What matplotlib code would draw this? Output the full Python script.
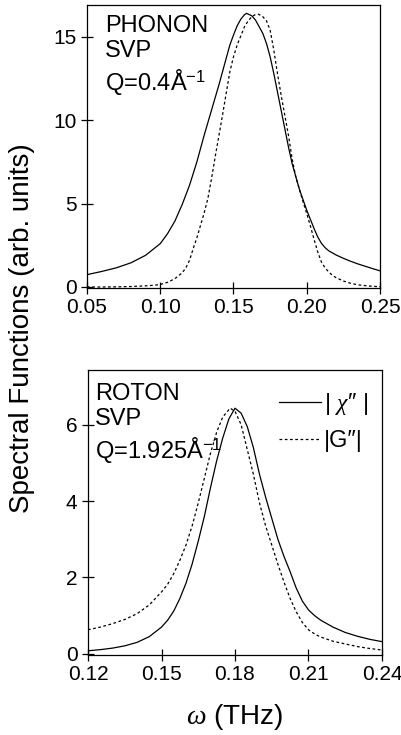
import matplotlib
matplotlib.use("Agg")
import matplotlib.pyplot as plt
from matplotlib.lines import Line2D

plt.rcParams['font.family'] = ['Liberation Sans', 'DejaVu Sans']
plt.rcParams['mathtext.fontset'] = 'custom'
plt.rcParams['mathtext.rm'] = 'Liberation Sans'
plt.rcParams['mathtext.it'] = 'Liberation Serif:italic'

# ---- Phonon panel data (Q = 0.4 1/A) ----
ph_chi_x = [0.05, 0.06, 0.07, 0.08, 0.09, 0.10, 0.105, 0.11, 0.115, 0.12, 0.125,
            0.13, 0.135, 0.14, 0.145, 0.1475, 0.15, 0.1525, 0.155, 0.1575, 0.159,
            0.1625, 0.165, 0.1675, 0.17, 0.1725, 0.175, 0.1775, 0.18, 0.1825,
            0.185, 0.1875, 0.19, 0.195, 0.20, 0.2025, 0.205, 0.2075, 0.21, 0.2125,
            0.215, 0.22, 0.225, 0.23, 0.235, 0.24, 0.245, 0.25]
ph_chi = [0.74, 0.93, 1.15, 1.45, 1.9, 2.6, 3.2, 3.95, 4.95, 6.1, 7.5,
          9.1, 10.6, 12.1, 13.7, 14.5, 15.1, 15.65, 16.05, 16.32, 16.4,
          16.25, 16.0, 15.6, 15.2, 14.6, 13.8, 12.8, 11.7, 10.6,
          9.5, 8.4, 7.4, 5.85, 4.6, 4.05, 3.5, 3.0, 2.62, 2.36,
          2.17, 1.92, 1.72, 1.54, 1.38, 1.24, 1.1, 0.97]
ph_g_x = [0.05, 0.06, 0.07, 0.08, 0.09, 0.095, 0.10, 0.105, 0.11, 0.115, 0.1175,
          0.12, 0.1225, 0.125, 0.1275, 0.13, 0.1325, 0.135, 0.1375, 0.14, 0.1425,
          0.145, 0.1475, 0.15, 0.1525, 0.155, 0.1575, 0.16, 0.1625, 0.165, 0.167,
          0.17, 0.1725, 0.175, 0.1775, 0.18, 0.1825, 0.185, 0.1875, 0.19, 0.1925,
          0.195, 0.1975, 0.20, 0.2025, 0.205, 0.2075, 0.21, 0.2125, 0.215, 0.2175,
          0.22, 0.225, 0.23, 0.235, 0.24, 0.245, 0.25]
ph_g = [0.0, 0.0, 0.01, 0.03, 0.07, 0.1, 0.15, 0.28, 0.5, 0.85, 1.15,
        1.6, 2.3, 2.95, 3.7, 4.45, 5.3, 6.5, 7.8, 9.05, 10.3,
        11.6, 12.9, 13.8, 14.5, 15.05, 15.6, 15.95, 16.2, 16.33, 16.35,
        16.2, 15.95, 15.4, 14.2, 12.8, 11.5, 10.3, 9.1, 7.7, 6.6,
        5.85, 5.1, 4.4, 3.65, 2.85, 2.1, 1.5, 1.15, 0.9, 0.7,
        0.56, 0.36, 0.22, 0.13, 0.08, 0.04, 0.02]

# ---- Roton panel data (Q = 1.925 1/A) ----
ro_chi_x = [0.12, 0.125, 0.13, 0.135, 0.14, 0.145, 0.15, 0.1525, 0.155, 0.1575,
            0.16, 0.1625, 0.165, 0.1675, 0.17, 0.1725, 0.175, 0.1775, 0.18,
            0.1825, 0.185, 0.1875, 0.19, 0.1925, 0.195, 0.1975, 0.20, 0.2025,
            0.205, 0.2075, 0.21, 0.2125, 0.215, 0.22, 0.225, 0.23, 0.235, 0.24]
ro_chi = [0.08, 0.11, 0.15, 0.21, 0.3, 0.45, 0.7, 0.88, 1.12, 1.45,
          1.85, 2.35, 2.95, 3.6, 4.35, 5.05, 5.65, 6.15, 6.43,
          6.3, 5.95, 5.4, 4.7, 4.1, 3.55, 3.0, 2.55, 2.15,
          1.72, 1.38, 1.15, 1.0, 0.88, 0.7, 0.56, 0.46, 0.38, 0.32]
ro_g_x = [0.12, 0.125, 0.13, 0.135, 0.14, 0.145, 0.15, 0.1525, 0.155, 0.1575,
          0.16, 0.1625, 0.165, 0.1675, 0.17, 0.1725, 0.175, 0.178, 0.18,
          0.1825, 0.185, 0.1875, 0.19, 0.1925, 0.195, 0.1975, 0.20, 0.2025,
          0.205, 0.2075, 0.21, 0.2125, 0.215, 0.22, 0.225, 0.23, 0.235, 0.24]
ro_g = [0.63, 0.7, 0.79, 0.9, 1.05, 1.28, 1.62, 1.82, 2.1, 2.45,
        2.85, 3.35, 3.95, 4.6, 5.25, 5.8, 6.2, 6.43, 6.35,
        6.0, 5.35, 4.7, 3.95, 3.35, 2.85, 2.35, 1.88, 1.45,
        1.1, 0.82, 0.63, 0.52, 0.44, 0.33, 0.26, 0.19, 0.14, 0.1]

ph_xticks = [0.05, 0.10, 0.15, 0.20, 0.25]
ph_yticks = [0, 5, 10, 15]
ro_xticks = [0.12, 0.15, 0.18, 0.21, 0.24]
ro_yticks = [0, 2, 4, 6]

fig = plt.figure(figsize=(4.02, 7.35), dpi=100)
ax1 = fig.add_axes([87/402, 1-288/735, 293/402, 283/735])
ax2 = fig.add_axes([88/402, 1-655/735, 294/402, 285/735])

lw = 0.9
dash = (0, (2.2, 2.0))
ax1.plot(ph_chi_x, ph_chi, color='black', lw=lw)
ax1.plot(ph_g_x, ph_g, color='black', lw=lw, linestyle=dash)
ax2.plot(ro_chi_x, ro_chi, color='black', lw=lw)
ax2.plot(ro_g_x, ro_g, color='black', lw=lw, linestyle=dash)

ax1.set_xlim(0.05, 0.25)
ax1.set_ylim(-0.06, 16.9)
ax1.set_xticks(ph_xticks)
ax1.set_xticklabels(['%.2f' % v for v in ph_xticks])
ax1.set_yticks(ph_yticks)

ax2.set_xlim(0.12, 0.24)
ax2.set_ylim(-0.03, 7.43)
ax2.set_xticks(ro_xticks)
ax2.set_xticklabels(['%.2f' % v for v in ro_xticks])
ax2.set_yticks(ro_yticks)

for ax in (ax1, ax2):
    ax.tick_params(direction='inout', length=9, width=0.9, labelsize=15, pad=3)
    for s in ax.spines.values():
        s.set_linewidth(0.9)

ax1.text(18/293, 1-10/283, "PHONON\nSVP\nQ=0.4Å$^{-1}$", transform=ax1.transAxes,
         ha='left', va='top', fontsize=17, linespacing=1.2)
ax2.text(7/294, 1-13/285, "ROTON\nSVP\nQ=1.925Å$^{-1}$", transform=ax2.transAxes,
         ha='left', va='top', fontsize=17, linespacing=1.2)

handles = [Line2D([], [], color='black', lw=lw),
           Line2D([], [], color='black', lw=lw, linestyle=dash)]
ax2.legend(handles, ["| $\\chi$″ |", "|G″|"], loc='upper right',
           bbox_to_anchor=(1.0, 0.975),
           frameon=False, fontsize=17, handlelength=1.8, handletextpad=0.1,
           labelspacing=0.55, borderaxespad=0.2)

fig.text(22/402, 1-328/735, "Spectral Functions (arb. units)", rotation=90,
         ha='center', va='center', fontsize=20)
fig.text(235/402, 1-717/735, r"$\omega$ (THz)", ha='center', va='center', fontsize=20)

fig.savefig("out.png", dpi=100)
